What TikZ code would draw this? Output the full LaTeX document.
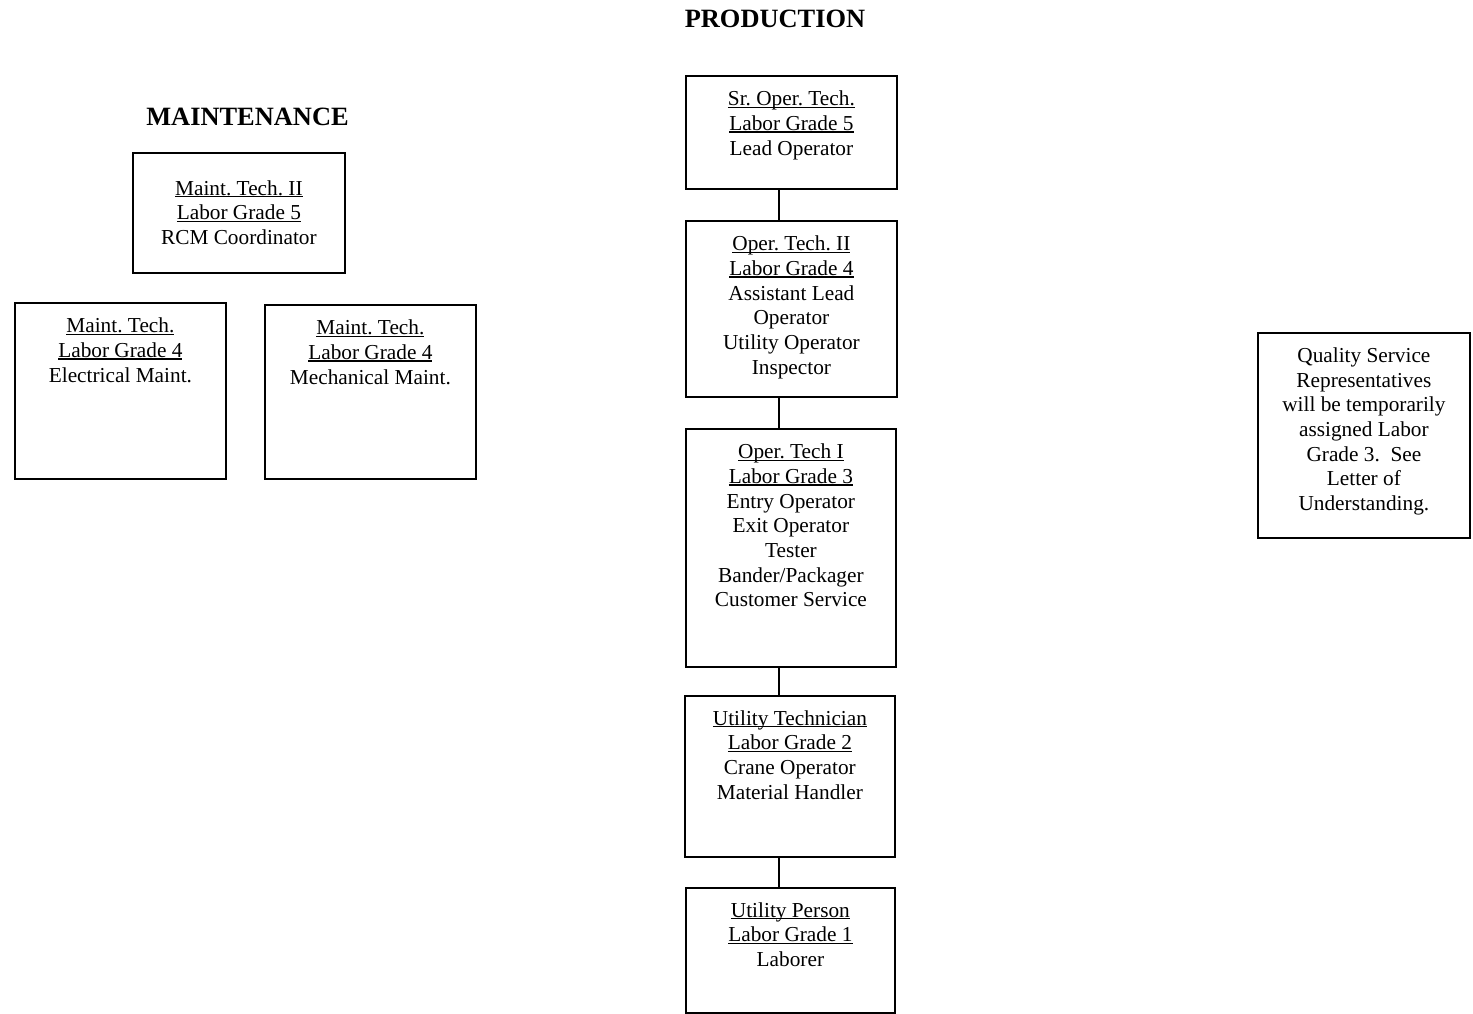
\documentclass[tikz,border=0pt]{standalone}
\usepackage{fontspec}
\setmainfont{Liberation Serif}
\frenchspacing
\newcommand\ulx[1]{\leavevmode\setbox0\hbox{#1}\rlap{\rule[-2.2pt]{\wd0}{1.1pt}}\box0}
\newcommand\cellbox[4]{\parbox[c][#2][t]{#1}{\vspace*{#3}\centering\fontsize{21.3}{24.7}\selectfont\rule[-6pt]{0pt}{18pt}#4\par}}
\tikzset{
  bx/.style={draw, line width=1.8pt, inner sep=0pt, anchor=north west},
  ttl/.style={font=\fontsize{26.4}{30}\selectfont\bfseries, anchor=base, inner sep=0pt},
  link/.style={line width=1.8pt}
}
\begin{document}
\begin{tikzpicture}[x=1pt, y=-1pt]
\useasboundingbox (0,0) rectangle (1473,1013);
\node[ttl] (tmaint) at (247.5,125) {MAINTENANCE};
\node[ttl] (tprod) at (775,27) {PRODUCTION};
\node[bx] (mt2) at (132,152) {\cellbox{212pt}{120pt}{27.5pt}{\ulx{Maint. Tech. II}\par \ulx{Labor Grade 5}\par RCM Coordinator}};
\node[bx] (elec) at (14,302) {\cellbox{211pt}{176pt}{15pt}{\ulx{Maint. Tech.}\par \ulx{Labor Grade 4}\par Electrical Maint.}};
\node[bx] (mech) at (264,304) {\cellbox{211pt}{174pt}{15pt}{\ulx{Maint. Tech.}\par \ulx{Labor Grade 4}\par Mechanical Maint.}};
\node[bx] (sr) at (685,75) {\cellbox{211pt}{113pt}{15pt}{\ulx{Sr. Oper. Tech.}\par \ulx{Labor Grade 5}\par Lead Operator}};
\node[bx] (ot2) at (685,220) {\cellbox{211pt}{176pt}{15pt}{\ulx{Oper. Tech. II}\par \ulx{Labor Grade 4}\par Assistant Lead\par Operator\par Utility Operator\par Inspector}};
\node[bx] (ot1) at (685,428) {\cellbox{210pt}{238pt}{15pt}{\ulx{Oper. Tech I}\par \ulx{Labor Grade 3}\par Entry Operator\par Exit Operator\par Tester\par Bander/Packager\par Customer Service}};
\node[bx] (ut) at (684,695) {\cellbox{210pt}{161pt}{14.5pt}{\ulx{Utility Technician}\par \ulx{Labor Grade 2}\par Crane Operator\par Material Handler}};
\node[bx] (up) at (685,887) {\cellbox{209pt}{125pt}{14.5pt}{\ulx{Utility Person}\par \ulx{Labor Grade 1}\par Laborer}};
\node[bx] (q) at (1257,332) {\cellbox{212pt}{205pt}{14.8pt}{Quality Service\par Representatives\par will be temporarily\par assigned Labor\par Grade 3.\ \ See\par Letter of\par Understanding.}};
\coordinate (spine) at (779,0);
\draw[link] (sr.south -| spine) -- (ot2.north -| spine);
\draw[link] (ot2.south -| spine) -- (ot1.north -| spine);
\draw[link] (ot1.south -| spine) -- (ut.north -| spine);
\draw[link] (ut.south -| spine) -- (up.north -| spine);
\end{tikzpicture}
\end{document}
